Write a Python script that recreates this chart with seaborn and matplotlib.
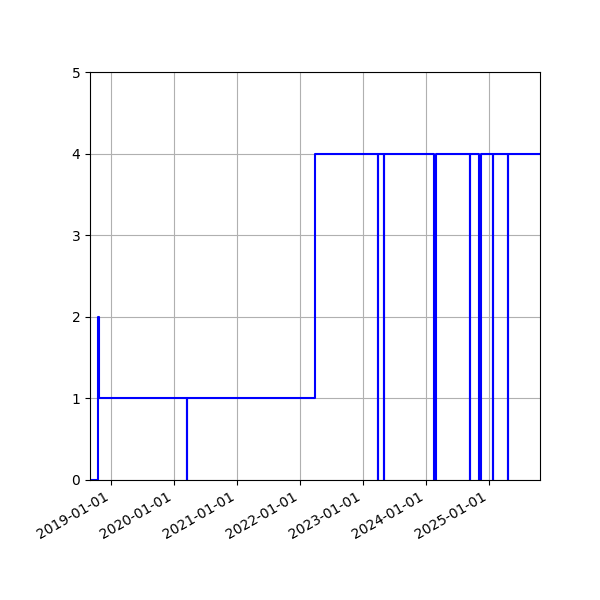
import pandas as pd
import matplotlib
matplotlib.use('Agg')
import matplotlib.pyplot as plt
import matplotlib.dates as mdates
import seaborn as sns

#change points of the step series (value holds until the next date)
dates = ['2018-09-01', '2018-10-18', '2018-10-22', '2020-03-14', '2020-03-15',
         '2022-03-27', '2023-03-29', '2023-03-30', '2023-05-05', '2023-05-06',
         '2024-02-16', '2024-03-03', '2024-09-11', '2024-09-12', '2024-11-06',
         '2024-11-14', '2025-01-24', '2025-01-25', '2025-04-23', '2025-04-24',
         '2025-10-25']
values = [0, 2, 1, 0, 1,
          4, 0, 4, 0, 4,
          0, 4, 0, 4, 0,
          4, 0, 4, 0, 4,
          4]

df = pd.DataFrame({'date': pd.to_datetime(dates), 'value': values})

fig, ax = plt.subplots(figsize=(6, 6), dpi=100)
sns.lineplot(data=df, x='date', y='value', drawstyle='steps-post', color='blue', linewidth=1.5, ax=ax)

ax.set_xlim(df['date'].min(), df['date'].max())
ax.set_ylim(0, 5)
ax.set_xlabel('')
ax.set_ylabel('')
ax.xaxis.set_major_locator(mdates.YearLocator())
ax.xaxis.set_major_formatter(mdates.DateFormatter('%Y-%m-%d'))
ax.grid(True)
fig.autofmt_xdate()
plt.subplots_adjust(left=0.15, right=0.9, top=0.88, bottom=0.2)
plt.savefig('out.png')
